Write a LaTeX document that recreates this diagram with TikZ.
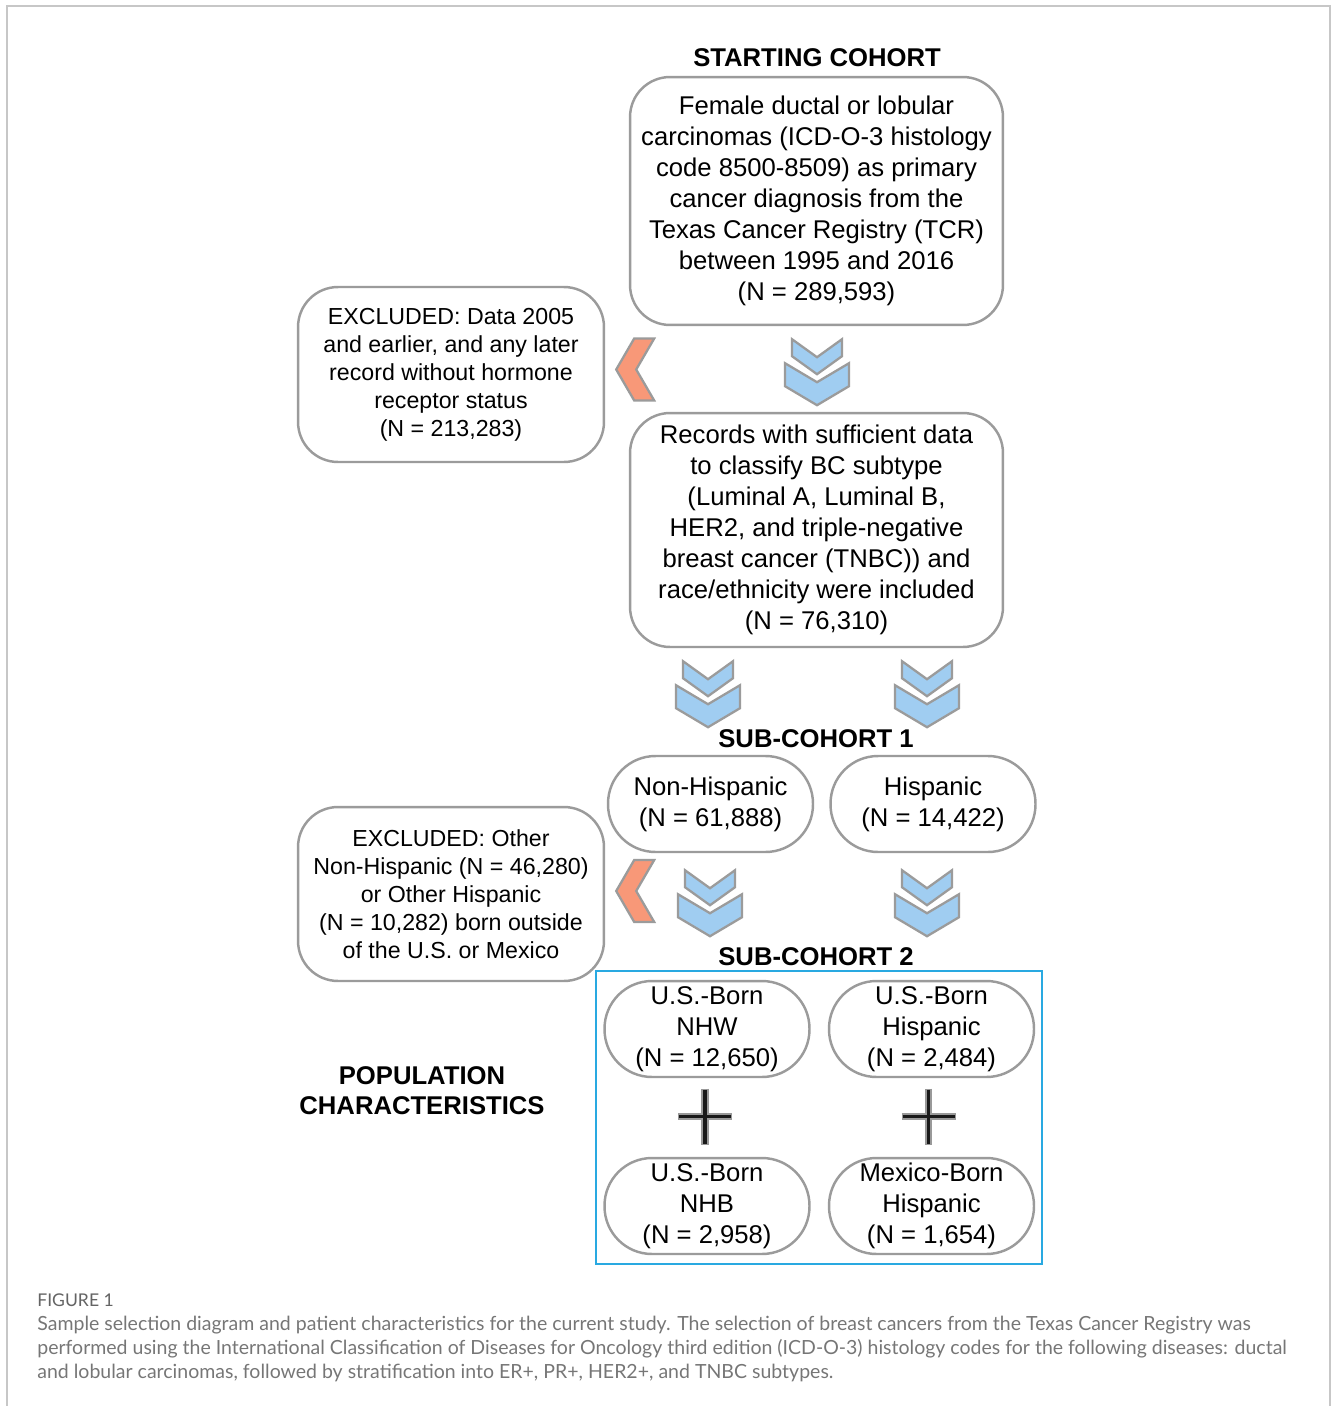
\documentclass[tikz,border=0pt]{standalone}
\usepackage{fontspec}
\setmainfont{Liberation Sans}
\newfontfamily\capfont{Lato}
\usetikzlibrary{positioning, calc, fit}
\definecolor{chevblue}{HTML}{A0CDF1}
\definecolor{chevorange}{HTML}{F89878}
\definecolor{boxgray}{HTML}{9B9B9B}
\definecolor{frameblue}{HTML}{29A9E1}
\definecolor{capgray}{HTML}{767676}
\tikzset{
  chevline/.style={draw=boxgray, line width=1.3pt, fill=chevblue, line join=miter},
  downchev/.pic={
    \draw[chevline] (-25,0) -- (0,18) -- (25,0) -- (25,17) -- (0,35) -- (-25,17) -- cycle;
    \draw[chevline] (-32,24) -- (0,43) -- (32,24) -- (32,47) -- (0,66) -- (-32,47) -- cycle;
  },
  leftchev/.pic={
    \draw[chevline, fill=chevorange] (-2,-31) -- (18,-31) -- (0,0) -- (18,31) -- (-2,31) -- (-20,0) -- cycle;
  },
  plussign/.pic={
    \draw[line width=4.5pt, black!40] (0,-28) -- (0,28) (-27,0) -- (27,0);
    \draw[line width=2.2pt, black!90] (0,-27) -- (0,27) (-26,0) -- (26,0);
  },
}
\begin{document}
\begin{tikzpicture}[x=0.02cm, y=-0.02cm, inner sep=0pt,
    bigbox/.style={draw=boxgray, line width=1.4pt, rounded corners=0.8cm, align=center, minimum width=7.46cm, font=\fontsize{14.6}{17.6}\selectfont, execute at begin node={\rule{0pt}{0.5cm}}},
    exclbox/.style={draw=boxgray, line width=1.4pt, rounded corners=0.8cm, align=center, minimum width=6.12cm, minimum height=3.5cm, font=\fontsize{13.2}{15.9}\selectfont, execute at begin node={\rule{0pt}{0.5cm}}},
    groupbox/.style={draw=boxgray, line width=1.4pt, rounded corners=0.95cm, align=center, minimum width=4.1cm, minimum height=1.92cm, font=\fontsize{14.6}{17.6}\selectfont, execute at begin node={\rule{0pt}{0.5cm}}},
    heading/.style={font=\fontsize{14.6}{17}\selectfont\bfseries, align=center},
    captext/.style={anchor=base west, text=capgray, font=\capfont\fontsize{11.1}{14}\selectfont}]
  \useasboundingbox (0,0) rectangle (1331,1406);
  \draw[black!22, line width=0.9pt] (7,1406) -- (7,6) -- (1330,6) -- (1330,1406);

  \node [bigbox, minimum height=4.96cm] (start) at (816.5,201) {Female ductal or lobular\\carcinomas (ICD-O-3 histology\\code 8500-8509) as primary\\cancer diagnosis from the\\Texas Cancer Registry (TCR)\\between 1995 and 2016\\(N = 289,593)};
  \node [heading] (starthead) at (817,58) {STARTING COHORT};

  \node [exclbox] (excl1) at (451,374.5) {EXCLUDED: Data 2005\\and earlier, and any later\\record without hormone\\receptor status\\(N = 213,283)};

  \node [bigbox, minimum height=4.68cm] (records) at (816.5,530) {Records with sufficient data\\to classify BC subtype\\(Luminal A, Luminal B,\\HER2, and triple-negative\\breast cancer (TNBC)) and\\race/ethnicity were included\\(N = 76,310)};

  \node [heading] (sub1head) at (816,739) {SUB-COHORT 1};
  \node [groupbox] (nonhisp) at (710.5,804) {Non-Hispanic\\(N = 61,888)};
  \node [groupbox] (hisp) at (933,804) {Hispanic\\(N = 14,422)};

  \node [exclbox, minimum height=3.48cm] (excl2) at (451,894) {EXCLUDED: Other\\Non-Hispanic (N = 46,280)\\or Other Hispanic\\(N = 10,282) born outside\\of the U.S. or Mexico};

  \node [heading] (sub2head) at (816,957) {SUB-COHORT 2};
  \node [groupbox] (usnhw) at (707,1029) {U.S.-Born\\NHW\\(N = 12,650)};
  \node [groupbox] (ushisp) at (931.5,1029) {U.S.-Born\\Hispanic\\(N = 2,484)};
  \node [groupbox] (usnhb) at (707,1206) {U.S.-Born\\NHB\\(N = 2,958)};
  \node [groupbox] (mexhisp) at (931.5,1206) {Mexico-Born\\Hispanic\\(N = 1,654)};
  \node [draw=frameblue, line width=1.3pt, inner xsep=0.14cm, inner ysep=0.17cm, fit=(usnhw)(mexhisp)] (sub2frame) {};

  \node [heading, font=\fontsize{14.6}{17.2}\selectfont\bfseries] (popchar) at (422,1091) {POPULATION\\CHARACTERISTICS};

  % chevrons between the steps
  \pic at ($(start.south)+(0.5,13)$) {downchev};
  \pic at ($(records.south)+(-108.5,13)$) {downchev};
  \pic at ($(records.south)+(110.5,13)$) {downchev};
  \pic at ($(nonhisp.south)+(-0.5,17)$) {downchev};
  \pic at ($(hisp.south)+(-6,17)$) {downchev};
  \pic at ($(excl1.east)+(31,-5)$) {leftchev};
  \pic at ($(excl2.east)+(31,-3)$) {leftchev};
  \pic at ($(usnhw.south)!0.5!(usnhb.north)+(-2,-1)$) {plussign};
  \pic at ($(ushisp.south)!0.5!(mexhisp.north)+(-3,-1)$) {plussign};

  % caption
  \node [captext, font=\capfont\fontsize{10}{12}\selectfont, text=capgray!85!black] (capfig) at (37,1306) {FIGURE 1};
  \node [captext] (cap1) at (37,1330) {Sample selection diagram and patient characteristics for the current study. The selection of breast cancers from the Texas Cancer Registry was};
  \node [captext] (cap2) at (37,1354) {performed using the International Classification of Diseases for Oncology third edition (ICD-O-3) histology codes for the following diseases: ductal};
  \node [captext] (cap3) at (37,1378) {and lobular carcinomas, followed by stratification into ER+, PR+, HER2+, and TNBC subtypes.};
\end{tikzpicture}
\end{document}
